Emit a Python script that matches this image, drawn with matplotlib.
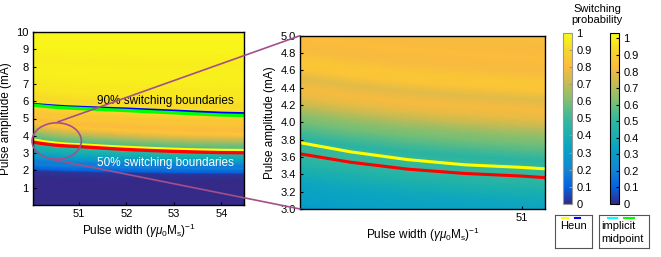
import numpy as np
import matplotlib
matplotlib.use("Agg")
import matplotlib.pyplot as plt
from matplotlib.colors import LinearSegmentedColormap, Normalize
from matplotlib.patches import Ellipse, ConnectionPatch
import matplotlib.cm as cm

plt.rcParams['font.family'] = ['Liberation Sans', 'DejaVu Sans']
plt.rcParams['mathtext.fontset'] = 'custom'
plt.rcParams['mathtext.rm'] = 'Liberation Sans'
plt.rcParams['mathtext.it'] = 'Liberation Sans:italic'
plt.rcParams['font.size'] = 8

# -------------------------------------------------
# switching boundaries
pulse_width = [50.0, 50.25, 50.5, 50.75, 51.0, 51.5, 52.0, 52.5, 53.0, 53.5, 54.0, 54.5]
heun_50 = [3.78, 3.66, 3.57, 3.51, 3.48, 3.40, 3.33, 3.27, 3.22, 3.18, 3.16, 3.15]
midpoint_50 = [3.65, 3.54, 3.46, 3.41, 3.38, 3.29, 3.21, 3.15, 3.10, 3.06, 3.03, 3.02]
midpoint_90 = [5.78, 5.71, 5.65, 5.61, 5.58, 5.52, 5.46, 5.39, 5.33, 5.26, 5.20, 5.17]
heun_90 = [5.83, 5.77, 5.72, 5.68, 5.65, 5.60, 5.55, 5.49, 5.43, 5.37, 5.31, 5.28]

# how far the colour bands sink along the pulse width (0 at left, 1 at right)
band_frac = [0.0, 0.19, 0.33, 0.43, 0.48, 0.60, 0.71, 0.81, 0.89, 0.95, 0.98, 1.0]

# full map: probability level, amplitude at width 50 and at width 54.5
map_prob = [0.0, 0.0, 0.02, 0.10, 0.14, 0.19, 0.17, 0.24, 0.30, 0.33, 0.38, 0.42,
            0.47, 0.50, 0.55, 0.58, 0.62, 0.68, 0.72, 0.78, 0.84, 0.80, 0.82, 0.85,
            0.83, 0.86, 0.88, 0.90, 0.92, 0.91, 0.94, 0.95, 0.97, 0.96, 0.98, 0.98]
map_amp_left = [-0.5, 1.6, 2.0, 2.12, 2.25, 2.4, 2.55, 2.7, 2.85, 3.0, 3.2, 3.4,
                3.6, 3.75, 3.9, 4.05, 4.2, 4.35, 4.5, 4.65, 4.8, 4.95, 5.1, 5.25,
                5.4, 5.55, 5.7, 5.8, 5.95, 6.3, 6.7, 7.2, 7.8, 8.5, 9.2, 10.5]
map_amp_right = [-0.5, 1.4, 1.78, 1.88, 2.0, 2.12, 2.25, 2.4, 2.5, 2.6, 2.7, 2.85,
                 3.0, 3.13, 3.3, 3.42, 3.55, 3.7, 3.82, 3.95, 4.1, 4.3, 4.5, 4.7,
                 4.85, 5.0, 5.1, 5.2, 5.35, 5.7, 6.1, 6.7, 7.3, 8.1, 8.8, 10.5]

# zoomed map: amplitude at width 50 and probability
zoom_amp = [2.9, 3.0, 3.07, 3.15, 3.3, 3.4, 3.5, 3.6, 3.72, 3.82, 3.92, 4.0,
            4.1, 4.2, 4.3, 4.4, 4.52, 4.62, 4.72, 4.85, 5.0, 5.15, 5.4]
zoom_prob = [0.22, 0.25, 0.31, 0.33, 0.35, 0.39, 0.44, 0.49, 0.52, 0.47, 0.55, 0.60,
             0.65, 0.72, 0.79, 0.82, 0.78, 0.86, 0.87, 0.82, 0.83, 0.82, 0.84]
zoom_width = [50.0, 50.25, 50.5, 50.75, 51.0, 51.15]
zoom_drop = [0.0, 0.09, 0.16, 0.21, 0.25, 0.27]

parula = LinearSegmentedColormap.from_list(
    "parula", [(0.0, (0.208, 0.166, 0.529)), (0.1, (0.012, 0.388, 0.882)),
               (0.2, (0.078, 0.520, 0.831)), (0.3, (0.024, 0.620, 0.788)),
               (0.4, (0.094, 0.690, 0.690)), (0.5, (0.216, 0.722, 0.608)),
               (0.6, (0.490, 0.749, 0.447)), (0.7, (0.765, 0.733, 0.333)),
               (0.8, (0.988, 0.733, 0.239)), (0.9, (0.969, 0.843, 0.169)),
               (1.0, (0.976, 0.984, 0.080))])

W, H = 661, 257
fig = plt.figure(figsize=(W / 100, H / 100), dpi=100)


def box(x0, y0, x1, y1):
    return [x0 / W, (H - y1) / H, (x1 - x0) / W, (y1 - y0) / H]


# -------------------------------------------------
# left: full map
ax1 = fig.add_axes(box(33, 32, 244, 205))
amp_l = np.array(map_amp_left)
amp_r = np.array(map_amp_right)
frac = np.array(band_frac)
X = np.tile(pulse_width, (len(amp_l), 1))
Y = amp_l[:, None] + (amp_r - amp_l)[:, None] * frac[None, :]
C = np.tile(np.array(map_prob)[:, None], (1, len(pulse_width)))
ax1.pcolormesh(X, Y, C, cmap=parula, vmin=0, vmax=1, shading='gouraud')

ax1.plot(pulse_width, heun_90, color='#0000ff', lw=2.2)
ax1.plot(pulse_width, midpoint_90, color='#00ff00', lw=2.4)
ax1.plot(pulse_width, heun_50, color='#ffff00', lw=2.4)
ax1.plot(pulse_width, midpoint_50, color='#ff0000', lw=2.4)

ax1.text(52.82, 6.0, "90% switching boundaries", ha='center', va='center',
         fontsize=8.5, color='black')
ax1.text(52.82, 2.45, "50% switching boundaries", ha='center', va='center',
         fontsize=8.5, color='white')

ax1.set_xlim(50.03, 54.48)
ax1.set_ylim(0, 10)
ax1.set_xticks([51, 52, 53, 54])
ax1.set_yticks(range(1, 11))
ax1.tick_params(direction='in', length=2, labelsize=8, pad=3)
ax1.set_ylabel("Pulse amplitude (mA)", fontsize=8.5, labelpad=3)
ax1.set_xlabel(r"Pulse width ($\gamma\mu_0$M$_\mathrm{s}$)$^{-1}$", fontsize=8.5, labelpad=2)

zoom_color = '#a3508a'
ax1.add_patch(Ellipse((50.53, 3.70), 1.04, 2.1, fill=False, ec=zoom_color, lw=1.2,
                      clip_on=False, zorder=5))

# -------------------------------------------------
# right: zoom
ax2 = fig.add_axes(box(300, 35.7, 545, 209))
zamp = np.array(zoom_amp)
Xz = np.tile(zoom_width, (len(zamp), 1))
Yz = zamp[:, None] - np.array(zoom_drop)[None, :]
Cz = np.tile(np.array(zoom_prob)[:, None], (1, len(zoom_width)))
ax2.pcolormesh(Xz, Yz, Cz, cmap=parula, vmin=0, vmax=1.035, shading='gouraud')
ax2.plot(pulse_width, heun_50, color='#ffff00', lw=2.2)
ax2.plot(pulse_width, midpoint_50, color='#ff0000', lw=2.2)
ax2.set_xlim(50.03, 51.1)
ax2.set_ylim(3.0, 5.0)
ax2.set_xticks([51])
ax2.set_yticks(np.arange(3.0, 5.01, 0.2))
ax2.set_yticklabels([f"{v:.1f}" for v in np.arange(3.0, 5.01, 0.2)])
ax2.tick_params(direction='in', length=2, labelsize=8, pad=3)
ax2.set_ylabel("Pulse amplitude (mA)", fontsize=8.5, labelpad=3)
ax2.set_xlabel(r"Pulse width ($\gamma\mu_0$M$_\mathrm{s}$)$^{-1}$", fontsize=8.5, labelpad=2)

for ax in (ax1, ax2):
    for s in ax.spines.values():
        s.set_linewidth(1.0)

# zoom connectors
for pA, pB in [((50.55, 4.8), (0, 1)), ((50.45, 2.63), (0, 0))]:
    con = ConnectionPatch(xyA=pA, coordsA=ax1.transData, xyB=pB, coordsB=ax2.transAxes,
                          color=zoom_color, lw=1.2, zorder=10)
    fig.add_artist(con)

# -------------------------------------------------
# colourbars
ticks = [0, 0.1, 0.2, 0.3, 0.4, 0.5, 0.6, 0.7, 0.8, 0.9, 1.0]
cax1 = fig.add_axes(box(563, 32.7, 572, 204))
cb1 = fig.colorbar(cm.ScalarMappable(Normalize(0, 1), parula), cax=cax1, ticks=ticks)
cb1.outline.set_edgecolor('#999999')
cb1.ax.set_yticklabels([f"{t:g}" for t in ticks])
cb1.ax.tick_params(direction='in', length=2, labelsize=8, pad=3, color='#999999')

cax2 = fig.add_axes(box(610, 32.7, 619, 204))
cb2 = fig.colorbar(cm.ScalarMappable(Normalize(0, 1.035), parula), cax=cax2, ticks=ticks)
cb2.outline.set_edgecolor('black')
cb2.ax.set_yticklabels([f"{t:g}" for t in ticks])
cb2.ax.tick_params(direction='in', length=2, labelsize=8, pad=3)

fig.text(597 / W, 1 - 14.5 / H, "Switching\nprobability", ha='center', va='center',
         fontsize=8, linespacing=1.1)

# -------------------------------------------------
# legend boxes
lg1 = fig.add_axes(box(555, 215, 592, 248))
lg1.plot([0.19, 0.35], [0.91, 0.91], color='#ffff00', lw=1.5)
lg1.plot([0.54, 0.68], [0.91, 0.91], color='#0000ff', lw=1.5)
lg1.text(0.51, 0.66, "Heun", ha='center', va='center', fontsize=8)

lg2 = fig.add_axes(box(599, 215, 649, 248))
lg2.plot([0.18, 0.36], [0.91, 0.91], color='#00ffff', lw=1.5)
lg2.plot([0.50, 0.70], [0.91, 0.91], color='#00ff00', lw=1.5)
lg2.text(0.05, 0.66, "implicit", ha='left', va='center', fontsize=8)
lg2.text(0.05, 0.26, "midpoint", ha='left', va='center', fontsize=8)

for lg in (lg1, lg2):
    lg.set_xlim(0, 1)
    lg.set_ylim(0, 1)
    lg.set_xticks([])
    lg.set_yticks([])
    for s in lg.spines.values():
        s.set_linewidth(0.8)
        s.set_edgecolor('#555555')

fig.savefig("out.png", dpi=100)
